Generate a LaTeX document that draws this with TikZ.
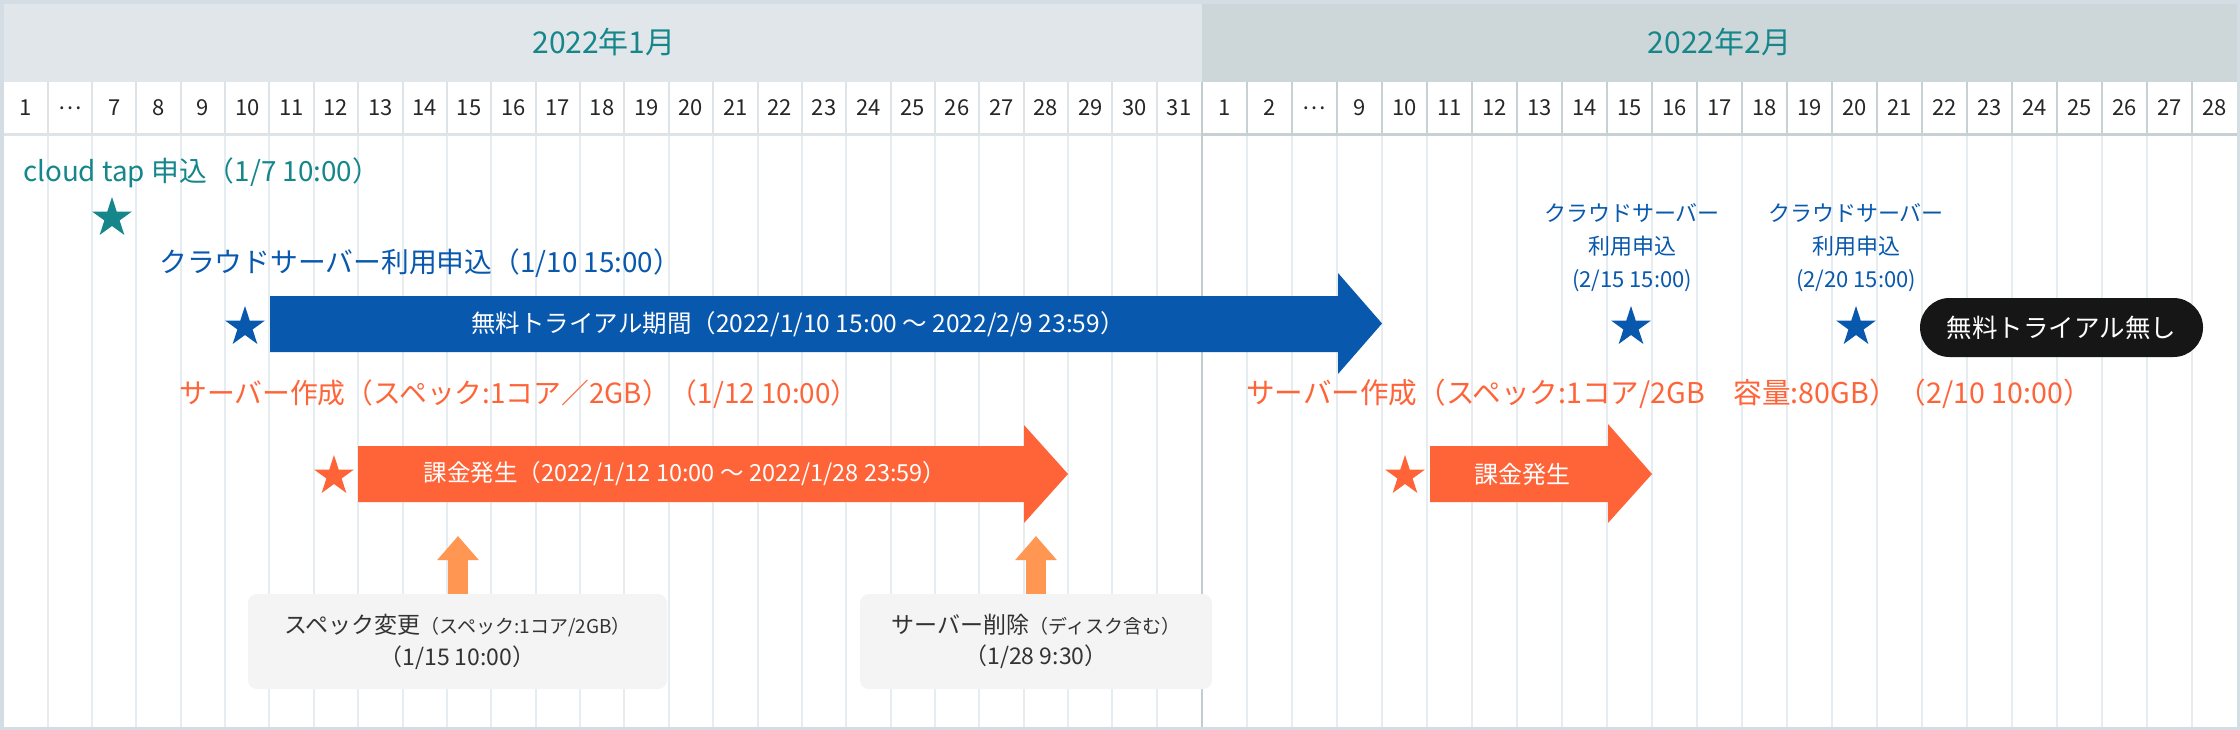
\documentclass[tikz,border=0pt]{standalone}
\usepackage{fontspec}
\setmainfont{Noto Sans CJK JP}
\usetikzlibrary{shapes.geometric,shapes.misc,arrows.meta}
\definecolor{frame}{HTML}{D5DDE4}
\definecolor{hdrJan}{HTML}{E0E6E9}
\definecolor{hdrFeb}{HTML}{CDD6D9}
\definecolor{gridJ}{HTML}{DDE3E6}
\definecolor{gridF}{HTML}{C7D0D3}
\definecolor{bodyline}{HTML}{E6EDF0}
\definecolor{monthline}{HTML}{C3CCCF}
\definecolor{tealc}{HTML}{15878B}
\definecolor{bluec}{HTML}{0858AE}
\definecolor{orangec}{HTML}{FF6439}
\definecolor{lorange}{HTML}{FF9651}
\definecolor{boxgray}{HTML}{F4F4F4}
\definecolor{txtdark}{HTML}{333333}
\definecolor{pillc}{HTML}{161616}
\newcommand{\fsz}[1]{\fontsize{#1pt}{#1pt}\selectfont}
\tikzset{
  month/.style={inner sep=0pt, text=tealc, font=\fsz{30}},
  daylbl/.style={inner sep=0pt, text=black!85, font=\fsz{22}},
  starS/.style={star, star points=5, star point ratio=2.618, minimum size=42pt, inner sep=0pt, draw=none},
  lbl/.style={inner sep=0pt, anchor=west, font=\fsz{27.8}},
  bartxt/.style={inner sep=0pt, text=white, font=\fsz{24}},
  graybox/.style={fill=boxgray, rounded corners=9pt, inner sep=0pt, text=txtdark, align=center, font=\fsz{23}},
  uparrow/.style={draw=lorange, line width=20pt, -{Triangle[width=40pt,length=24pt]}},
  febblue/.style={inner sep=0pt, text=bluec, align=center, font=\fontsize{22pt}{33pt}\selectfont},
}
\begin{document}
\begin{tikzpicture}[x=1pt,y=-1pt]
\useasboundingbox (0,0) rectangle (2240,730);
\fill[frame] (0,0) rectangle (2240,730);
\fill[white] (3.5,4) rectangle (2237,727);
\fill[hdrJan] (3.5,4) rectangle (1202,82);
\fill[hdrFeb] (1202,4) rectangle (2237,82);
% grid lines
\foreach \k in {1,...,26}{
  \draw[bodyline, line width=2pt] ({3.2+44.37*\k},136) -- ({3.2+44.37*\k},727);
  \draw[gridJ, line width=2pt] ({3.2+44.37*\k},82) -- ({3.2+44.37*\k},134);
}
\foreach \k in {1,...,22}{
  \draw[bodyline, line width=2pt] ({1202+45*\k},136) -- ({1202+45*\k},727);
  \draw[gridF, line width=2pt] ({1202+45*\k},82) -- ({1202+45*\k},134);
}
\draw[gridJ, line width=3pt] (3.5,135) -- (1202,135);
\draw[gridF, line width=3pt] (1202,135) -- (2237,135);
\draw[monthline, line width=2.5pt] (1202,82) -- (1202,727);
% headers
\node[month] (mJan) at (604,42) {2022年1月};
\node[month] (mFeb) at (1719.5,42) {2022年2月};
\foreach \d [count=\i from 0] in {1,…,7,8,9,10,11,12,13,14,15,16,17,18,19,20,21,22,23,24,25,26,27,28,29,30,31}
  \node[daylbl] (dj\i) at ({3.2+44.37*(\i+0.5)},108) {\d};
\foreach \d [count=\i from 0] in {1,2,…,9,10,11,12,13,14,15,16,17,18,19,20,21,22,23,24,25,26,27,28}
  \node[daylbl] (df\i) at ({1202+45*(\i+0.5)},108) {\d};
% labels
\node[lbl, text=tealc] (l1) at (23,173) {cloud tap 申込（1/7 10:00）};
\node[lbl, text=bluec] (l2) at (159,263) {クラウドサーバー利用申込（1/10 15:00）};
\node[lbl, text=orangec] (l3) at (179,394) {サーバー作成（スペック:1コア／2GB）（1/12 10:00）};
\node[lbl, text=orangec, font=\fsz{28.6}] (l4) at (1246,394) {サーバー作成（スペック:1コア/2GB　容量:80GB）（2/10 10:00）};
\node[febblue] (l5) at (1632,248) {クラウドサーバー\\利用申込\\(2/15 15:00)};
\node[febblue] (l6) at (1856,248) {クラウドサーバー\\利用申込\\(2/20 15:00)};
% stars
\node[starS, fill=tealc] (st1) at (112,218) {};
\node[starS, fill=bluec] (st2) at (245,327) {};
\node[starS, fill=orangec] (st3) at (334,476) {};
\node[starS, fill=orangec] (st4) at (1405,476) {};
\node[starS, fill=bluec] (st5) at (1631,327) {};
\node[starS, fill=bluec] (st6) at (1856,327) {};
% bars
\fill[bluec] (270,296) -- (1338,296) -- (1338,273) -- (1382,323.5) -- (1338,374) -- (1338,352) -- (270,352) -- cycle;
\node[bartxt, font=\fsz{24.5}] (b1) at (798,324) {無料トライアル期間（2022/1/10 15:00 〜 2022/2/9 23:59）};
\fill[orangec] (358,446) -- (1024,446) -- (1024,425) -- (1068,474) -- (1024,523) -- (1024,502) -- (358,502) -- cycle;
\node[bartxt, font=\fsz{23.5}] (b2) at (685,474) {課金発生（2022/1/12 10:00 〜 2022/1/28 23:59）};
\fill[orangec] (1430,446) -- (1608,446) -- (1608,424) -- (1652,474) -- (1608,523) -- (1608,502) -- (1430,502) -- cycle;
\node[bartxt] (b3) at (1522,474) {課金発生};
% pill
\node[rounded rectangle, fill=pillc, minimum width=283pt, minimum height=59pt, inner sep=0pt, text=white, font=\fsz{25.5}] (pill) at (2061.5,327.5) {無料トライアル無し};
% gray boxes
\node[graybox, minimum width=419pt, minimum height=95pt] (box1) at (457.5,641.5)
  {スペック変更{\fsz{19}（スペック:1コア/2GB）}\\[8pt]（1/15 10:00）};
\node[graybox, minimum width=352pt, minimum height=95pt] (box2) at (1036,641.5)
  {サーバー削除{\fsz{19}（ディスク含む）}\\[8pt]（1/28 9:30）};
\coordinate (tip1) at (458,536);
\coordinate (tip2) at (1036,536);
\draw[uparrow] (box1.north -| tip1) -- (tip1);
\draw[uparrow] (box2.north) -- (tip2);
\end{tikzpicture}
\end{document}
